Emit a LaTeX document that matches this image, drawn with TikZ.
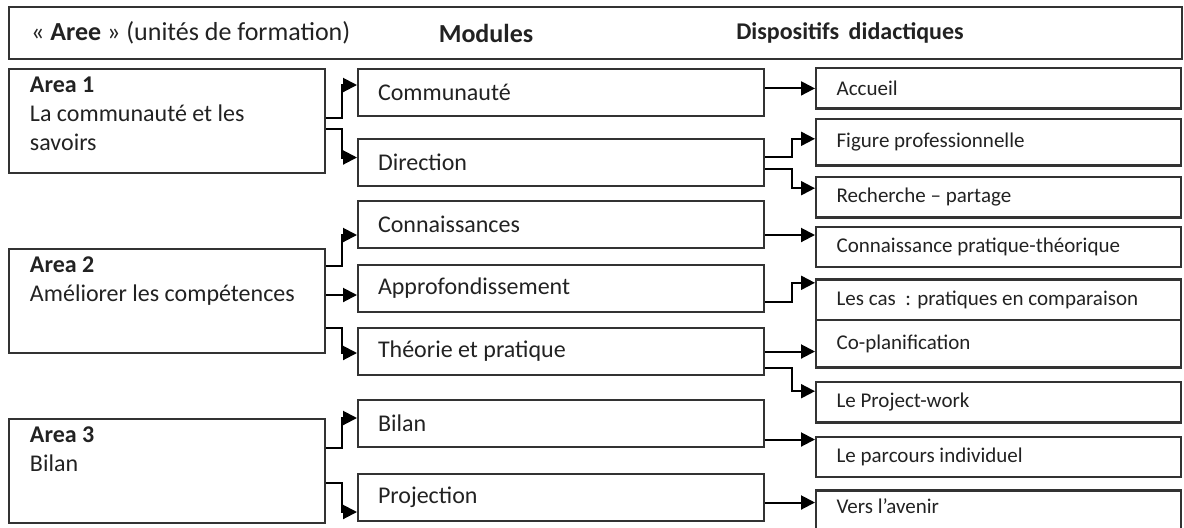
\documentclass[tikz,border=0pt]{standalone}
\usepackage{fontspec}
\setmainfont{Carlito}
\usetikzlibrary{arrows.meta,positioning}
\definecolor{BoxLine}{RGB}{51,51,51}
\definecolor{TextGrey}{RGB}{34,34,34}
\tikzset{
  headbar/.style={draw=BoxLine,line width=1.2pt,minimum width=586.3pt,
    minimum height=25.8pt,text width=564.3pt,inner xsep=11pt,align=flush left,
    text=TextGrey,font=\fontsize{13}{15.5}\selectfont},
  headtext/.style={inner sep=0pt,text=TextGrey,
    font=\fontsize{12}{14.5}\selectfont\bfseries},
  area/.style={draw=BoxLine,line width=1.2pt,minimum width=157.8pt,
    minimum height=51.8pt,inner xsep=10.4pt,inner ysep=3.9pt,text=TextGrey,
    font=\fontsize{12}{14.5}\selectfont,
    execute at begin node={\begin{minipage}[c][44pt][t]{137pt}\raggedright},
    execute at end node={\end{minipage}}},
  module/.style={draw=BoxLine,line width=1.2pt,minimum height=23.3pt,
    text width=183pt,inner xsep=9.9pt,inner ysep=2pt,align=flush left,
    text=TextGrey,font=\fontsize{12}{14.5}\selectfont},
  device/.style={draw=BoxLine,line width=1.2pt,minimum height=20.2pt,
    text width=162pt,inner xsep=10.2pt,inner ysep=2pt,align=flush left,
    text=TextGrey,font=\fontsize{10.5}{12.5}\selectfont},
  arrow/.style={-{Triangle[length=7pt,width=7pt]},line width=1pt,black}
}

\begin{document}
\begin{tikzpicture}[x=0.5pt,y=-0.5pt]
  \useasboundingbox (0,0) rectangle (1184,527);

  % header row
  \node[headbar,anchor=north west] (head) at (8,6)
    {« \textbf{Aree} » (unités de formation)};
  \node[headtext,font=\fontsize{13}{15.5}\selectfont\bfseries] (headmod)
    at (486,33) {Modules};
  \node[headtext] (headdev) at (850,33) {Dispositifs\hspace{0.4em}didactiques};

  % areas
  \node[area,anchor=north west] (area1) at (8,68)
    {\textbf{Area 1}\\La communauté et les\\savoirs};
  \node[area,below=37pt of area1] (area2)
    {\textbf{Area 2}\\Améliorer les compétences};
  \node[area,below=32pt of area2] (area3) {\textbf{Area 3}\\Bilan};

  % modules
  \node[module,anchor=north west] (communaute) at (357,68) {Communauté};
  \node[module,below=10.5pt of communaute] (direction) {Direction};
  \node[module,below=6.5pt of direction] (connaissances) {Connaissances};
  \node[module,below=7.5pt of connaissances] (approf) {Approfondissement};
  \node[module,below=7pt of approf] (theorie) {Théorie et pratique};
  \node[module,below=11.5pt of theorie] (bilan) {Bilan};
  \node[module,below=12.5pt of bilan] (projection) {Projection};

  % dispositifs
  \node[device,anchor=north west] (accueil) at (815,67) {Accueil};
  \node[device,below=4pt of accueil,minimum height=23.3pt] (figure)
    {Figure professionnelle};
  \node[device,below=4.5pt of figure] (recherche) {Recherche -- partage};
  \node[device,below=3.5pt of recherche] (connpt)
    {Connaissance pratique-théorique};
  \node[device,below=5pt of connpt] (lescas)
    {Les cas~ : pratiques en comparaison};
  \node[device,below=-1.2pt of lescas,minimum height=23.8pt] (coplan)
    {Co-planification};
  \node[device,below=6pt of coplan] (project) {Le Project-work};
  \node[device,below=6pt of project] (parcours) {Le parcours individuel};
  \node[device,below=5.5pt of parcours,minimum height=24pt,
    text depth=9pt] (avenir) {Vers l'avenir};

  % areas to modules
  \draw[arrow] ([yshift=1.75pt]area1.east) -- ++(8pt,0)
    |- ([yshift=3.75pt]communaute.west);
  \draw[arrow] ([yshift=-3.75pt]area1.east) -- ++(8pt,0)
    |- ([yshift=2.5pt]direction.west);
  \draw[arrow] ([yshift=17.5pt]area2.east) -- ++(8pt,0)
    |- ([yshift=-5.25pt]connaissances.west);
  \draw[arrow] ([yshift=-3.25pt]approf.west -| area2.east)
    -- ([yshift=-3.25pt]approf.west);
  \draw[arrow] ([yshift=-13.5pt]area2.east) -- ++(8pt,0)
    |- ([yshift=-0.75pt]theorie.west);
  \draw[arrow] ([yshift=11.5pt]area3.east) -- ++(8pt,0)
    |- ([yshift=2.75pt]bilan.west);
  \draw[arrow] ([yshift=-6pt]area3.east) -- ++(8pt,0)
    |- ([yshift=-7.25pt]projection.west);

  % modules to dispositifs
  \draw[arrow] (communaute.east |- accueil.west) -- (accueil.west);
  \draw[arrow] ([yshift=3pt]direction.east) -- ++(13.5pt,0)
    |- ([yshift=1.75pt]figure.west);
  \draw[arrow] ([yshift=-3pt]direction.east) -- ++(13.5pt,0)
    |- ([yshift=4.5pt]recherche.west);
  \draw[arrow] ([yshift=-5.25pt]connaissances.east)
    -- ([yshift=-5.25pt]connaissances.east -| connpt.west);
  \draw[arrow] ([yshift=-6.5pt]approf.east) -- ++(13.5pt,0)
    |- ([yshift=8.5pt]lescas.west);
  \draw[arrow] (theorie.east) -- (theorie.east -| coplan.west);
  \draw[arrow] ([yshift=-8.25pt]theorie.east) -- ++(13.5pt,0)
    |- ([yshift=5.5pt]project.west);
  \draw[arrow] ([yshift=-8pt]bilan.east)
    -- ([yshift=-8pt]bilan.east -| parcours.west);
  \draw[arrow] ([yshift=-2.5pt]projection.east)
    -- ([yshift=-2.5pt]projection.east -| avenir.west);
\end{tikzpicture}
\end{document}
